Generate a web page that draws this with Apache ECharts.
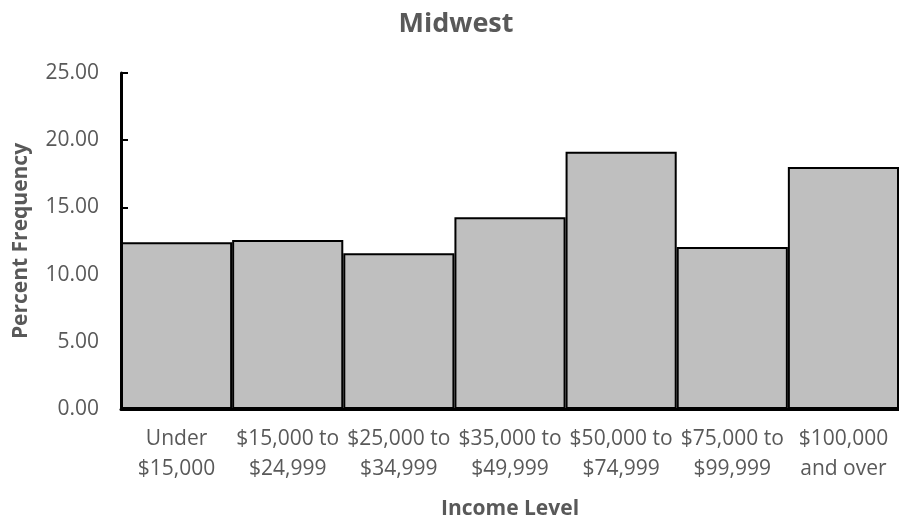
<!DOCTYPE html>
<html>
<head>
<meta charset="utf-8">
<script src="https://cdn.jsdelivr.net/npm/echarts@6/dist/echarts.min.js"></script>
<style>html,body{margin:0;padding:0;background:#fff;}#c{width:899px;height:525px;}</style>
</head>
<body>
<div id="c"></div>
<script>
var categories = ["Under\n$15,000", "$15,000 to\n$24,999", "$25,000 to\n$34,999", "$35,000 to\n$49,999", "$50,000 to\n$74,999", "$75,000 to\n$99,999", "$100,000\nand over"];
var percentFrequency = [12.41, 12.58, 11.59, 14.27, 19.14, 12.06, 18.00];
var chartTitle = "Midwest";
var xAxisTitle = "Income Level";
var yAxisTitle = "Percent Frequency";

var FONT = "'Open Sans', sans-serif";
var chart = echarts.init(document.getElementById('c'), null, {renderer: 'canvas'});
chart.setOption({
  animation: false,
  backgroundColor: '#ffffff',
  title: {
    text: chartTitle,
    left: 451, top: 6, textAlign: 'center',
    textStyle: {fontFamily: FONT, fontSize: 27, fontWeight: 'bold', color: '#595959'}
  },
  grid: {left: 121, right: 0, top: 73, bottom: 116, containLabel: false},
  xAxis: {
    type: 'category',
    data: categories,
    name: xAxisTitle,
    nameLocation: 'middle',
    nameGap: 90,
    nameTextStyle: {fontFamily: FONT, fontSize: 21, fontWeight: 'bold', color: '#595959'},
    axisLine: {lineStyle: {color: '#000', width: 3}},
    axisTick: {show: false},
    axisLabel: {fontFamily: FONT, fontSize: 21, color: '#595959', lineHeight: 30, margin: 15, interval: 0}
  },
  yAxis: {
    type: 'value',
    min: 0, max: 25, interval: 5,
    name: yAxisTitle,
    nameLocation: 'middle',
    nameGap: 89,
    nameRotate: 90,
    nameTextStyle: {fontFamily: FONT, fontSize: 21, fontWeight: 'bold', color: '#595959'},
    axisLine: {show: true, lineStyle: {color: '#000', width: 3}},
    axisTick: {show: true, inside: true, length: 7, lineStyle: {color: '#000', width: 2}},
    splitLine: {show: false},
    axisLabel: {fontFamily: FONT, fontSize: 21, color: '#595959', margin: 22,
      formatter: function (v) { return v.toFixed(2); }}
  },
  series: [{
    type: 'bar',
    data: percentFrequency,
    barCategoryGap: '0%',
    itemStyle: {color: '#bfbfbf', borderColor: '#000', borderWidth: 2}
  }]
});
</script>
</body>
</html>
